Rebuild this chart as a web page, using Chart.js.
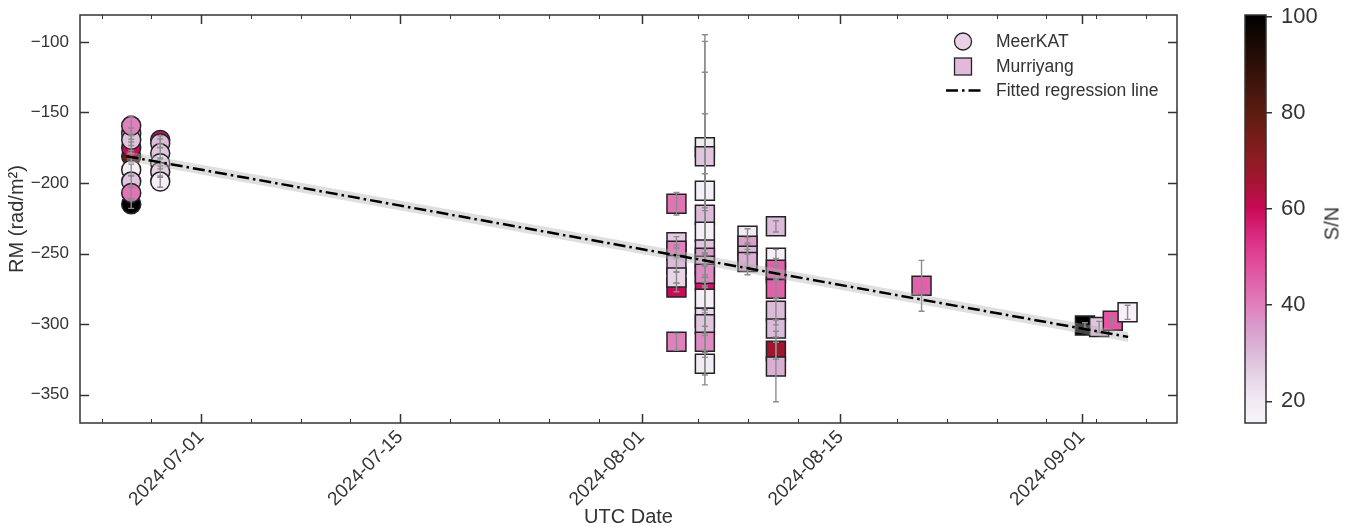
<!DOCTYPE html>
<html>
<head>
<meta charset="utf-8">
<script src="https://cdn.jsdelivr.net/npm/chart.js@4.4.1/dist/chart.umd.min.js"></script>
<style>
  html, body { margin: 0; padding: 0; background: #fff; }
  #wrap { position: relative; width: 1352px; height: 527px; font-family: "Liberation Sans", Arial, sans-serif; color: #333; }
  #main { position: absolute; left: 0; top: 0; }
  #cbar { position: absolute; left: 1200px; top: 0; }
  #legend { position: absolute; left: 940px; top: 29px; font-size: 17.5px; line-height: 24.5px; }
  #legend .row { position: relative; height: 24.5px; padding-left: 56px; white-space: nowrap; }
  #legend svg { position: absolute; left: 0; top: 0; }
  #snLabel { position: absolute; left: 1311px; top: 212px; width: 42px; text-align: center; font-size: 20px; transform: rotate(-90deg); }
</style>
</head>
<body>
<div id="wrap">
  <canvas id="main" width="1200" height="527"></canvas>
  <canvas id="cbar" width="152" height="527"></canvas>
  <div id="legend">
    <div class="row"><svg width="50" height="25"><circle cx="23" cy="12.5" r="8.5" fill="#ebd0e6" stroke="#222" stroke-width="1.3"/></svg>MeerKAT</div>
    <div class="row"><svg width="50" height="25"><rect x="14.5" y="4" width="17" height="17" fill="#e2b8db" stroke="#222" stroke-width="1.3"/></svg>Murriyang</div>
    <div class="row"><svg width="50" height="25"><line x1="6" y1="12.5" x2="41" y2="12.5" stroke="#000" stroke-width="2.5" stroke-dasharray="12,4,2.5,4"/></svg>Fitted regression line</div>
  </div>
  <div id="snLabel">S/N</div>
</div>
<script>
// --- data ---
const meerkatDates = [
  '2024-06-26T02:00', '2024-06-26T02:00', '2024-06-26T02:00', '2024-06-26T02:00', '2024-06-26T02:00',
  '2024-06-26T02:00', '2024-06-26T02:00', '2024-06-26T02:00', '2024-06-26T02:00',
  '2024-06-28T03:00', '2024-06-28T03:00', '2024-06-28T03:00', '2024-06-28T03:00', '2024-06-28T03:00', '2024-06-28T03:00'
];
const meerkatRM  = [-215, -181, -175, -165, -190.6, -199, -207, -169.4, -159.5, -169.5, -171.8, -179, -186, -192, -199];
const meerkatErr = [3, 4, 4, 4, 4, 4, 4, 4, 7, 3, 3, 4, 4, 4, 4];
const meerkatSN  = [100, 78, 60, 25, 18, 28, 42, 28, 40, 58, 30, 28, 22, 26, 18];

const murriyangDates = [
  '2024-08-03T11:00', '2024-08-03T11:00', '2024-08-03T11:00', '2024-08-03T11:00', '2024-08-03T11:00', '2024-08-03T11:00', '2024-08-03T11:00',
  '2024-08-05T11:00', '2024-08-05T11:00', '2024-08-05T11:00', '2024-08-05T11:00', '2024-08-05T11:00', '2024-08-05T11:00', '2024-08-05T11:00',
  '2024-08-05T11:00', '2024-08-05T11:00', '2024-08-05T11:00', '2024-08-05T11:00', '2024-08-05T11:00', '2024-08-05T11:00', '2024-08-05T11:00', '2024-08-05T11:00',
  '2024-08-08T11:00', '2024-08-08T11:00', '2024-08-08T11:00', '2024-08-08T11:00',
  '2024-08-10T11:00', '2024-08-10T11:00', '2024-08-10T11:00', '2024-08-10T11:00', '2024-08-10T11:00', '2024-08-10T11:00',
  '2024-08-10T11:00', '2024-08-10T11:00', '2024-08-10T11:00',
  '2024-08-20T17:00',
  '2024-09-01T05:00', '2024-09-02T05:00', '2024-09-03T04:00', '2024-09-04T05:00'
];
const murriyangRM = [
  -214.7, -274, -242, -248, -258, -267, -312.5,
  -269, -174.7, -181, -205.5, -222.5, -234.6, -247,
  -253, -258.6, -264.3, -282, -295.5, -300, -312.5, -328,
  -237.4, -244.5, -251.5, -256,
  -230.7, -264, -253, -261.5, -275, -290.5,
  -303, -318.8, -330,
  -272.8,
  -301, -302, -297.6, -291.6
];
const murriyangErr = [
  8, 3, 4, 4, 5, 4, 6,
  4, 75, 86, 12, 101, 15, 96,
  6, 8, 6, 8, 6, 8, 6, 8,
  5, 6, 8, 9,
  4, 5, 6, 8, 7, 10,
  6, 6, 25,
  18,
  2, 4, 2, 5
];
const murriyangSN = [
  42, 60, 27, 40, 30, 25, 40,
  58, 20, 28, 18, 30, 18, 28,
  35, 30, 38, 18, 24, 28, 38, 20,
  20, 35, 30, 32,
  30, 60, 18, 45, 45, 30,
  30, 67, 32,
  45,
  100, 28, 47, 17
];

const fitDates = ['2024-06-25T18:00', '2024-09-04T06:00'];
const fitRM    = [-181, -309];
const fitBand  = 3.5;

const xTickLabels = ['2024-07-01', '2024-07-15', '2024-08-01', '2024-08-15', '2024-09-01'];
const yTickValues = [-350, -300, -250, -200, -150, -100];
const cbarTicks   = [20, 40, 60, 80, 100];

// colour map for S/N (white -> pink -> crimson -> black)
const snStops  = [15.5, 20, 25, 30, 35, 40, 45, 50, 55, 60, 65, 70, 75, 80, 90, 100.3];
const snColors = ['#f7f4f9', '#f1ebf4', '#e7d5e8', '#dcbad9', '#d99fcd', '#e080bd', '#e062aa', '#e04596',
                  '#d8287c', '#c90a56', '#a81436', '#8e1c22', '#761d17', '#5c1c10', '#2d0f07', '#000000'];

const FONT = '"Liberation Sans", Arial, sans-serif';
const INK = '#333';

function toMs(s) {
  return Date.parse(s.length === 10 ? s + 'T00:00:00Z' : s + ':00Z');
}

function hexToRgb(h) {
  return [parseInt(h.slice(1, 3), 16), parseInt(h.slice(3, 5), 16), parseInt(h.slice(5, 7), 16)];
}

function snColor(sn) {
  if (sn <= snStops[0]) return snColors[0];
  for (let i = 1; i < snStops.length; i++) {
    if (sn <= snStops[i]) {
      const t = (sn - snStops[i - 1]) / (snStops[i] - snStops[i - 1]);
      const a = hexToRgb(snColors[i - 1]), b = hexToRgb(snColors[i]);
      const c = a.map((v, k) => Math.round(v + (b[k] - v) * t));
      return `rgb(${c[0]},${c[1]},${c[2]})`;
    }
  }
  return snColors[snColors.length - 1];
}

// keep Chart.js from reserving room for end labels
function noPad(s) {
  s.paddingTop = 0; s.paddingBottom = 0; s.paddingLeft = 0; s.paddingRight = 0;
}

// error bars drawn right after each scatter dataset
const errorBars = {
  id: 'errorBars',
  afterDatasetDraw(chart, args) {
    const ds = chart.data.datasets[args.index];
    if (!ds.errors) return;
    const { ctx } = chart;
    const y = chart.scales.y;
    ctx.save();
    ctx.strokeStyle = '#8c8c8c';
    ctx.lineWidth = 1.4;
    args.meta.data.forEach((pt, i) => {
      const v = ds.data[i].y, e = ds.errors[i];
      const y1 = y.getPixelForValue(v + e), y2 = y.getPixelForValue(v - e);
      ctx.beginPath();
      ctx.moveTo(pt.x, y1); ctx.lineTo(pt.x, y2);
      ctx.moveTo(pt.x - 3, y1); ctx.lineTo(pt.x + 3, y1);
      ctx.moveTo(pt.x - 3, y2); ctx.lineTo(pt.x + 3, y2);
      ctx.stroke();
    });
    ctx.restore();
  }
};

// matplotlib-like frame with inward ticks on all sides
const frameTicks = {
  id: 'frameTicks',
  afterDraw(chart) {
    const { ctx, chartArea: a, scales: { x, y } } = chart;
    const majorLen = 9, minorLen = 4;
    ctx.save();
    ctx.strokeStyle = INK;
    ctx.lineWidth = 1.5;
    ctx.strokeRect(a.left, a.top, a.right - a.left, a.bottom - a.top);
    ctx.beginPath();
    x.ticks.forEach(t => {
      const px = Math.round(x.getPixelForValue(t.value)) + 0.5;
      ctx.moveTo(px, a.bottom); ctx.lineTo(px, a.bottom - majorLen);
      ctx.moveTo(px, a.top); ctx.lineTo(px, a.top + majorLen);
    });
    y.ticks.forEach(t => {
      const py = Math.round(y.getPixelForValue(t.value)) + 0.5;
      ctx.moveTo(a.left, py); ctx.lineTo(a.left + majorLen, py);
      ctx.moveTo(a.right, py); ctx.lineTo(a.right - majorLen, py);
    });
    ctx.stroke();
    // minor ticks every 3.5 days
    const step = 3.5 * 86400000;
    const majors = x.ticks.map(t => t.value);
    ctx.lineWidth = 1;
    ctx.beginPath();
    const start = majors[0] - Math.ceil((majors[0] - x.min) / step) * step;
    for (let v = start; v <= x.max; v += step) {
      if (v < x.min || majors.some(m => Math.abs(m - v) < 86400000)) continue;
      const px = Math.round(x.getPixelForValue(v)) + 0.5;
      ctx.moveTo(px, a.bottom); ctx.lineTo(px, a.bottom - minorLen);
      ctx.moveTo(px, a.top); ctx.lineTo(px, a.top + minorLen);
    }
    ctx.stroke();
    ctx.restore();
  }
};

new Chart(document.getElementById('main'), {
  type: 'scatter',
  data: {
    datasets: [
      {
        label: 'Murriyang',
        data: murriyangDates.map((d, i) => ({ x: toMs(d), y: murriyangRM[i] })),
        errors: murriyangErr,
        pointStyle: 'rect',
        pointRadius: 13.4,
        pointHoverRadius: 13.4,
        backgroundColor: murriyangSN.map(snColor),
        borderColor: '#222',
        borderWidth: 1.5,
        order: 3
      },
      {
        label: 'MeerKAT',
        data: meerkatDates.map((d, i) => ({ x: toMs(d), y: meerkatRM[i] })),
        errors: meerkatErr,
        pointStyle: 'circle',
        pointRadius: 9.5,
        pointHoverRadius: 9.5,
        backgroundColor: meerkatSN.map(snColor),
        borderColor: '#222',
        borderWidth: 1.5,
        order: 2
      },
      {
        type: 'line',
        data: fitDates.map((d, i) => ({ x: toMs(d), y: fitRM[i] + fitBand })),
        borderColor: 'rgba(0,0,0,0)',
        pointRadius: 0,
        fill: false,
        order: 1
      },
      {
        type: 'line',
        data: fitDates.map((d, i) => ({ x: toMs(d), y: fitRM[i] - fitBand })),
        borderColor: 'rgba(0,0,0,0)',
        backgroundColor: 'rgba(175,175,175,0.4)',
        pointRadius: 0,
        fill: '-1',
        order: 1
      },
      {
        type: 'line',
        label: 'Fitted regression line',
        data: fitDates.map((d, i) => ({ x: toMs(d), y: fitRM[i] })),
        borderColor: '#000',
        borderWidth: 2.5,
        borderDash: [12, 4, 2.5, 4],
        pointRadius: 0,
        fill: false,
        order: 0
      }
    ]
  },
  options: {
    responsive: false,
    animation: false,
    layout: { padding: { left: 0, top: 15, right: 23, bottom: 0 } },
    plugins: { legend: { display: false }, tooltip: { enabled: false } },
    scales: {
      x: {
        type: 'linear',
        min: toMs('2024-06-22T11:30'),
        max: toMs('2024-09-07T16:30'),
        grid: { display: false, drawTicks: false },
        border: { display: false },
        afterBuildTicks: s => { s.ticks = xTickLabels.map(t => ({ value: toMs(t) })); },
        afterFit: s => { s.height = 104; noPad(s); },
        ticks: {
          autoSkip: false,
          minRotation: 45,
          maxRotation: 45,
          padding: 3,
          color: INK,
          font: { family: FONT, size: 19 },
          callback: (v, i) => xTickLabels[i]
        },
        title: { display: true, text: 'UTC Date', color: INK, font: { family: FONT, size: 20 }, padding: { top: 0, bottom: -2 } }
      },
      y: {
        min: -370,
        max: -81,
        grid: { display: false, drawTicks: false },
        border: { display: false },
        afterBuildTicks: s => { s.ticks = yTickValues.map(v => ({ value: v })); },
        afterFit: s => { s.width = 80; noPad(s); },
        ticks: {
          padding: 11,
          color: INK,
          font: { family: FONT, size: 17 },
          callback: v => String(v).replace('-', '\u2212')
        },
        title: { display: true, text: 'RM (rad/m²)', color: INK, font: { family: FONT, size: 20 }, padding: { top: 5, bottom: 0 } }
      }
    }
  },
  plugins: [errorBars, frameTicks]
});

// colour bar
const cbarFill = {
  id: 'cbarFill',
  beforeDatasetsDraw(chart) {
    const { ctx, chartArea: a, scales: { y } } = chart;
    const top = y.getPixelForValue(y.max), bottom = y.getPixelForValue(y.min);
    const g = ctx.createLinearGradient(0, bottom, 0, top);
    snStops.forEach((s, i) => {
      const t = (s - y.min) / (y.max - y.min);
      g.addColorStop(Math.min(1, Math.max(0, t)), snColors[i]);
    });
    ctx.save();
    ctx.fillStyle = g;
    ctx.fillRect(a.left, a.top, a.right - a.left, a.bottom - a.top);
    ctx.strokeStyle = INK;
    ctx.lineWidth = 1.5;
    ctx.strokeRect(a.left, a.top, a.right - a.left, a.bottom - a.top);
    ctx.restore();
  }
};

new Chart(document.getElementById('cbar'), {
  type: 'scatter',
  data: { datasets: [{ data: [] }] },
  options: {
    responsive: false,
    animation: false,
    layout: { padding: { left: 45, top: 15, right: 0, bottom: 104 } },
    plugins: { legend: { display: false }, tooltip: { enabled: false } },
    scales: {
      x: { display: false, min: 0, max: 1 },
      y: {
        position: 'right',
        min: 15.5,
        max: 100.3,
        afterBuildTicks: s => { s.ticks = cbarTicks.map(v => ({ value: v })); },
        afterFit: s => { s.width = 86; noPad(s); },
        grid: { display: true, drawOnChartArea: false, drawTicks: true, tickLength: 6, color: INK, lineWidth: 1.5 },
        border: { display: false },
        ticks: { padding: 9, color: INK, font: { family: FONT, size: 22 } }
      }
    }
  },
  plugins: [cbarFill]
});
</script>
</body>
</html>
